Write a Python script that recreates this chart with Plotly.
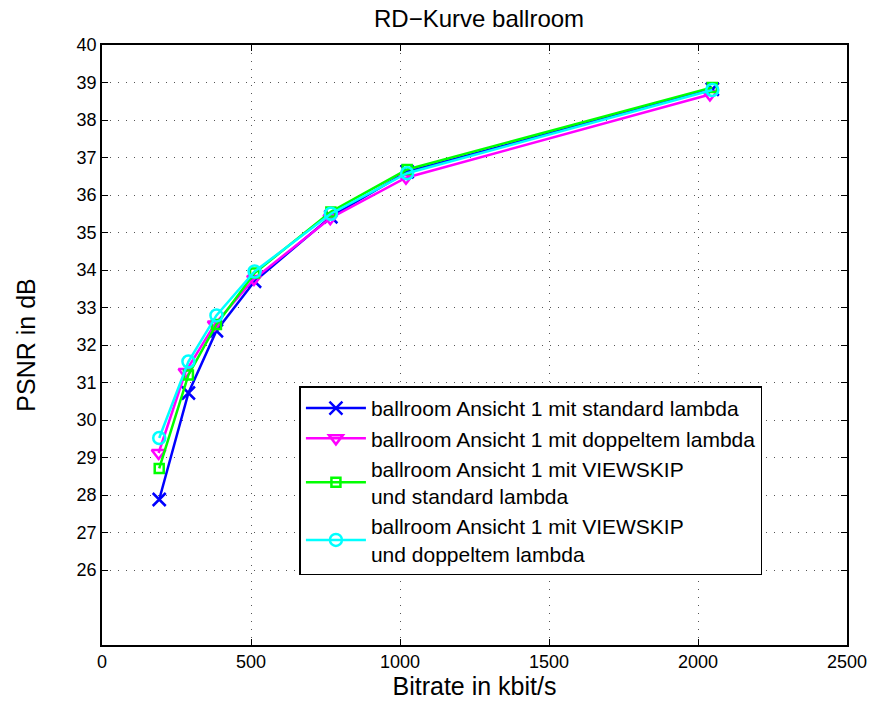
import plotly.graph_objects as go

bitrate = [192, 290, 384, 512, 768, 1024, 2048]
bitrate_dl = [190, 280, 378, 510, 766, 1020, 2040]
psnr_std = [27.88, 30.72, 32.38, 33.70, 35.42, 36.62, 38.82]
psnr_dbl = [29.12, 31.28, 32.55, 33.76, 35.38, 36.46, 38.68]
psnr_vs_std = [28.71, 31.20, 32.55, 33.92, 35.55, 36.68, 38.87]
psnr_vs_dbl = [29.52, 31.56, 32.79, 33.96, 35.50, 36.58, 38.80]

names = [
    "ballroom Ansicht 1 mit standard lambda",
    "ballroom Ansicht 1 mit doppeltem lambda",
    "ballroom Ansicht 1 mit VIEWSKIP<br>und standard lambda",
    "ballroom Ansicht 1 mit VIEWSKIP<br>und doppeltem lambda",
]
x_ticks = [0, 500, 1000, 1500, 2000, 2500]
y_ticks = list(range(26, 41))

FONT = "Liberation Sans, Arial, Helvetica"

fig = go.Figure()
series = [
    (bitrate, psnr_std, "#0000FF", "x-thin-open", 13),
    (bitrate_dl, psnr_dbl, "#FF00FF", "triangle-down-open", 12),
    (bitrate, psnr_vs_std, "#00FF00", "square-open", 9),
    (bitrate, psnr_vs_dbl, "#00FFFF", "circle-open", 12),
]
for (xs, ys, col, sym, sz), nm in zip(series, names):
    fig.add_trace(go.Scatter(
        x=xs, y=ys, name=nm, mode="lines+markers",
        line=dict(color=col, width=2.5),
        marker=dict(symbol=sym, size=sz, color=col, line=dict(color=col, width=2.5)),
    ))

axis_common = dict(
    showline=True, linecolor="black", linewidth=1.5, mirror="allticks",
    ticks="inside", ticklen=6, tickcolor="black", tickwidth=1,
    showgrid=True, gridcolor="#555555", griddash="1px,7px", gridwidth=1,
    zeroline=False, tickfont=dict(family=FONT, size=18, color="black"),
)

fig.update_layout(
    width=879, height=706,
    margin=dict(l=102, r=23, t=45, b=60),
    paper_bgcolor="white", plot_bgcolor="white",
    title=dict(text="RD\u2212Kurve ballroom", x=0.545, xanchor="center", y=0.974, yanchor="middle",
               font=dict(family=FONT, size=24, color="black")),
    xaxis=dict(range=[0, 2500], tickvals=x_ticks,
               title=dict(text="Bitrate in kbit/s", standoff=4,
                          font=dict(family=FONT, size=25, color="black")),
               **axis_common),
    yaxis=dict(range=[24, 40], tickvals=y_ticks,
               title=dict(text="PSNR in dB", standoff=34,
                          font=dict(family=FONT, size=25, color="black")),
               **axis_common),
    legend=dict(x=0.265, y=0.431, xanchor="left", yanchor="top",
                bgcolor="white", bordercolor="black", borderwidth=1.5,
                font=dict(family=FONT, size=21, color="black"),
                tracegroupgap=0, itemwidth=60),
    showlegend=True,
)

fig.write_html("out.html")
